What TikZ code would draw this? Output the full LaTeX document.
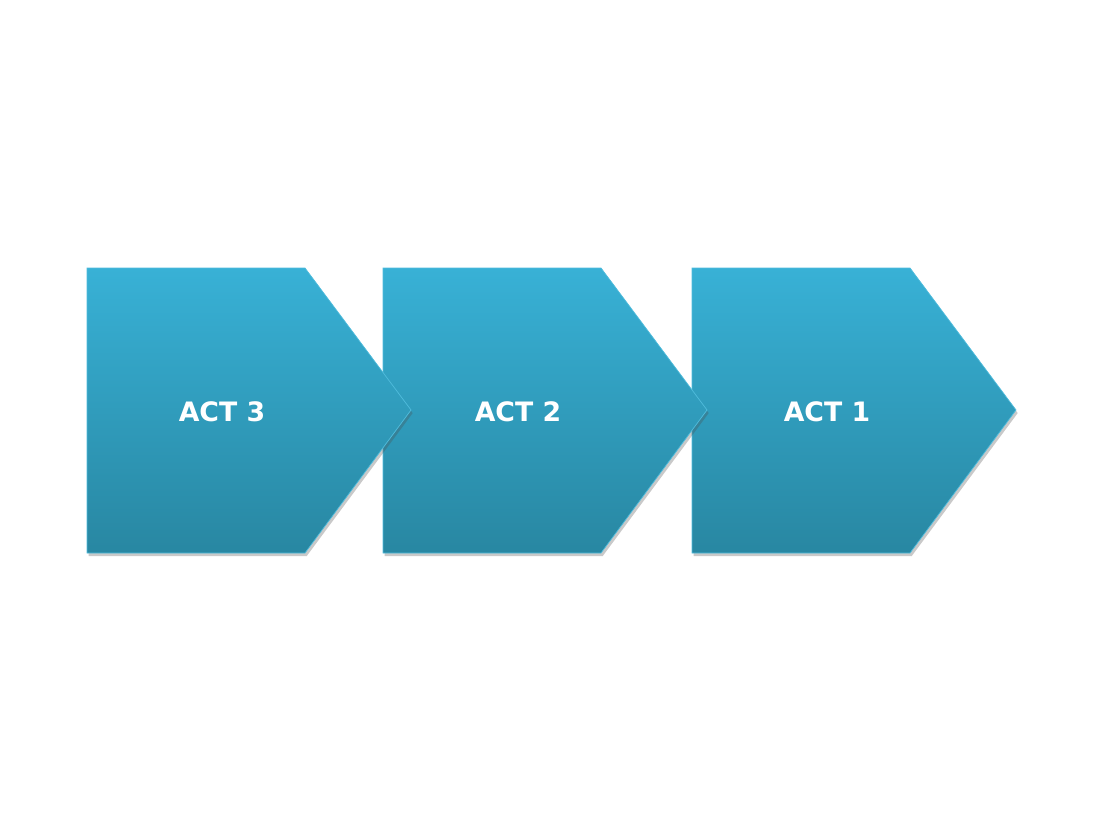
\documentclass[tikz,border=0pt]{standalone}
\usepackage{fontspec}
\setsansfont{DejaVu Sans}
\usetikzlibrary{shadows}

\definecolor{actTop}{RGB}{56,177,214}
\definecolor{actBot}{RGB}{40,135,162}
\definecolor{actLine}{RGB}{80,188,220}

\begin{document}
\begin{tikzpicture}[x=0.025cm,y=-0.025cm,
  actbox/.style={top color=actTop,bottom color=actBot,draw=actLine,line width=0.5pt,
    drop shadow={shadow xshift=1.2pt,shadow yshift=-2.2pt,opacity=0.3,fill=black!70}},
  actlabel/.style={text=white,font=\sffamily\bfseries\fontsize{19}{22}\selectfont}]
\useasboundingbox (0,0) rectangle (1103,827);
% right-most first, so each tip lies over the next box
\foreach \l/\n in {692/1,383/2,87/3}{
  \draw[actbox] (\l,268) -- ++(218,0) -- ++(106,142) -- ++(-106,143) -- ++(-218,0) -- cycle;
  \node[actlabel] (act\n) at (\l+135,412) {ACT \n};
}
\end{tikzpicture}
\end{document}
